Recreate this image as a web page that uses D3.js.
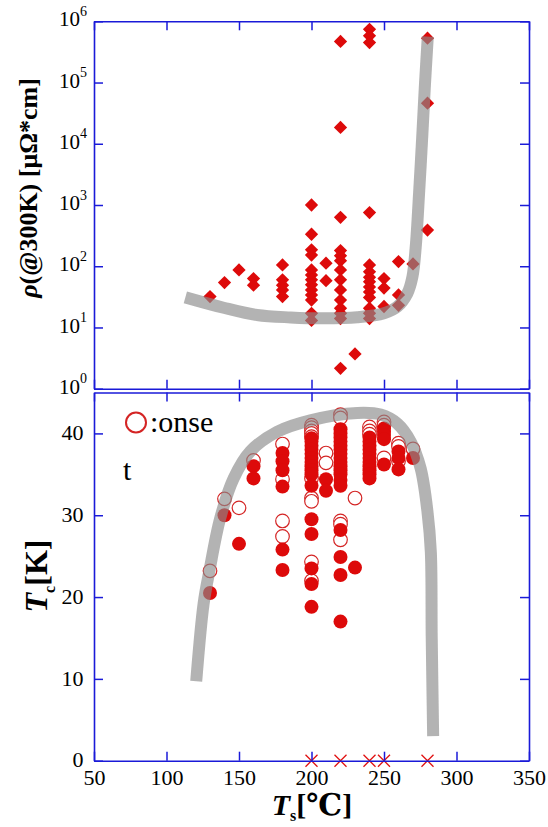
<!DOCTYPE html>
<html><head><meta charset="utf-8">
<script src="https://cdn.jsdelivr.net/npm/d3@7"></script>
<style>body{margin:0;background:#fff}svg{display:block}
svg text{font-family:'Liberation Serif','DejaVu Serif',serif;}</style>
</head><body>
<svg id="c" width="548" height="827"></svg>
<script>
// ---- tick labels ----
const tsTicks = [50,100,150,200,250,300,350];
const rhoTicks = [1,10,100,1000,1e4,1e5,1e6];
const tcTicks = [0,10,20,30,40];

// ---- resistivity (diamonds) ----
const rhoCols = [130,140,150,160,180,200,210,220,230,240,250,260,270,280];
const rhoByCol = [
  [32],
  [54],
  [87],
  [63,49],
  [105,60,49,41,32],
  [1000,333,185,152,87,72,60,50,41,34,28,17,13],
  [112,58],
  [470000,18500,630,180,149,123,87,60,41,28,20.6,17,14,2.15],
  [3.7],
  [740000,580000,450000,751,105,81,66,56,46,38,31,20.6,17,14],
  [63,44,22],
  [119,34,23],
  [109],
  [530000,46000,390]
];

// ---- Tc onset (open circles) ----
const onsetCols = [130,140,150,160,180,200,210,220,230,240,250,260,270];
const onsetByCol = [
  [23.2],
  [32.0],
  [30.9],
  [36.7],
  [38.7,34.4,29.3,27.4],
  [41.0,40.7,40.3,40.0,39.6,34.5,32.1,31.7,24.3,22.0],
  [37.6,36.4],
  [42.3,41.9,29.3,28.9,27.0],
  [32.1],
  [40.8,40.3,39.9],
  [41.4,41.0,37.0],
  [38.8,38.4,36.6],
  [38.1]
];

// ---- Tc zero (filled circles) ----
const zeroCols = [130,140,150,160,180,200,210,220,230,240,250,260,270];
const zeroByCol = [
  [20.5],
  [30.0],
  [26.5],
  [36.0,34.5],
  [37.6,36.6,35.5,33.5,25.8,23.3],
  [39.4,39.0,38.5,38.0,37.5,37.0,36.5,36.0,35.5,35.0,33.6,29.5,27.7,23.5,21.6,18.8],
  [34.4,33.0],
  [40.5,40.0,39.5,39.0,38.5,38.0,37.5,37.0,36.5,36.0,35.5,35.0,34.3,33.6,28.2,24.9,22.7,17.0],
  [23.6],
  [39.5,39.0,38.5,38.0,37.5,37.0,36.5,36.0,35.5,35.0,34.5],
  [40.6,40.2,39.8,39.3,36.2],
  [37.8,37.0,35.6],
  [37.0]
];

// ---- non-superconducting samples (crosses at 0 K) ----
const crossTs = [200,220,240,250,280];

// ---- guide curves ----
const rhoCurveTs  = [113,139.4,162.4,185.5,208.5,231.6,250,259.2,266.1,269.6,271.9,274.2,276.5,278.3,280.2];
const rhoCurveVal = [31,21,16,14.6,14.1,14.7,17.1,21.9,36,67,209,1560,14900,97700,560000];
const tcCurveTs  = [120.5,125.6,129.7,137,146.3,157.8,176.3,199.3,231.6,247.7,259.2,268.4,275.3,280,282.3,282.9,283.9];
const tcCurveVal = [9.7,19.2,23.3,29.6,34.5,37.8,40.2,41.6,42.5,42.3,41.2,39.0,35.7,30.4,25.5,15.2,3.0];

const flat = (cols, by) => cols.flatMap((c,i)=>by[i].map(v=>({t:c,v})));

const svg = d3.select('#c');
const BLUE = '#1a1ad8', RED = '#dd0a0a', OPEN = '#d42424';
const SERIF = "'Liberation Serif','DejaVu Serif',serif";

const x = d3.scaleLinear().domain([50,350]).range([94,529]);
const yR = d3.scaleLog().domain([1,1e6]).range([388.7,21.3]);
const yT = d3.scaleLinear().domain([0,45]).range([760.7,392.5]);

function styleAxis(g){
  g.select('.domain').attr('stroke',BLUE).attr('stroke-width',1.6);
  g.selectAll('.tick line').attr('stroke',BLUE).attr('stroke-width',1.5);
}
function frame(y, yt, top, bottom){
  svg.append('g').attr('transform',`translate(0,${bottom})`)
    .call(d3.axisBottom(x).tickValues(tsTicks).tickSize(-9).tickSizeOuter(0).tickFormat('')).call(styleAxis);
  svg.append('g').attr('transform',`translate(0,${top})`)
    .call(d3.axisTop(x).tickValues(tsTicks).tickSize(-9).tickSizeOuter(0).tickFormat('')).call(styleAxis);
  svg.append('g').attr('transform','translate(94,0)')
    .call(d3.axisLeft(y).tickValues(yt).tickSize(-9).tickSizeOuter(0).tickFormat('')).call(styleAxis);
  svg.append('g').attr('transform','translate(529,0)')
    .call(d3.axisRight(y).tickValues(yt).tickSize(-9).tickSizeOuter(0).tickFormat('')).call(styleAxis);
}
function serif(sel){ sel.style('font-family',SERIF); return sel; }

// ---------- markers: top panel ----------
const dia = d3.symbol(d3.symbolSquare, 88);
svg.append('g').selectAll('path').data(flat(rhoCols,rhoByCol)).join('path')
  .attr('d',dia).attr('fill',RED)
  .attr('transform',d=>`translate(${x(d.t)},${yR(d.v)}) rotate(45)`);

// ---------- markers: bottom panel ----------
svg.append('g').selectAll('circle').data(flat(onsetCols,onsetByCol)).join('circle')
  .attr('cx',d=>x(d.t)).attr('cy',d=>yT(d.v)).attr('r',6.8)
  .attr('fill','#fff').attr('stroke',OPEN).attr('stroke-width',1.2);
svg.append('g').selectAll('circle').data(flat(zeroCols,zeroByCol)).join('circle')
  .attr('cx',d=>x(d.t)).attr('cy',d=>yT(d.v)).attr('r',7)
  .attr('fill',RED);

// ---------- guide curves (semi-transparent, drawn on top) ----------
const lineR = d3.line().x((d,i)=>x(rhoCurveTs[i])).y((d,i)=>yR(rhoCurveVal[i])).curve(d3.curveCatmullRom.alpha(0.5));
svg.append('path').attr('d',lineR(rhoCurveTs)).attr('fill','none')
  .attr('stroke','#8a8a8a').attr('stroke-opacity',0.65).attr('stroke-width',12);
const lineT = d3.line().x((d,i)=>x(tcCurveTs[i])).y((d,i)=>yT(tcCurveVal[i])).curve(d3.curveCatmullRom.alpha(0.5));
svg.append('path').attr('d',lineT(tcCurveTs)).attr('fill','none')
  .attr('stroke','#8a8a8a').attr('stroke-opacity',0.65).attr('stroke-width',12);

// ---------- crosses ----------
svg.append('g').selectAll('path').data(crossTs).join('path')
  .attr('d',d=>{const cx=x(d),cy=yT(0),s=6;return `M${cx-s},${cy-s}L${cx+s},${cy+s}M${cx-s},${cy+s}L${cx+s},${cy-s}`;})
  .attr('stroke','#e01010').attr('stroke-width',1.3).attr('fill','none');

// ---------- frames ----------
frame(yR, rhoTicks, 21.3, 388.7);
frame(yT, tcTicks, 392.5, 760.7);

// ---------- tick labels ----------
const gRL = svg.append('g').attr('transform','translate(94,0)')
  .call(d3.axisLeft(yR).tickValues(rhoTicks).tickSize(0).tickPadding(7).tickFormat(()=>'10'));
gRL.attr('font-family',null).select('.domain').remove();
serif(gRL.selectAll('text')).attr('font-size',21).attr('fill','#000').attr('dy','0.22em')
  .append('tspan').attr('font-size',14).attr('dy','-0.75em').text(d=>Math.round(Math.log10(d)));

const gTL = svg.append('g').attr('transform','translate(94,0)')
  .call(d3.axisLeft(yT).tickValues(tcTicks).tickSize(0).tickPadding(10.5));
gTL.attr('font-family',null).select('.domain').remove();
serif(gTL.selectAll('text')).attr('font-size',22).attr('fill','#000').attr('dy','0.28em');

const gXL = svg.append('g').attr('transform','translate(0,760.7)')
  .call(d3.axisBottom(x).tickValues(tsTicks).tickSize(0).tickPadding(8.5));
gXL.attr('font-family',null).select('.domain').remove();
serif(gXL.selectAll('text')).attr('font-size',22).attr('fill','#000');

// ---------- axis titles ----------
const tx = serif(svg.append('text')).attr('font-weight','bold').attr('font-size',30)
  .attr('x',312).attr('y',815).attr('text-anchor','middle');
tx.append('tspan').attr('font-style','italic').text('T');
tx.append('tspan').attr('font-size',16).attr('dy',6).text('s');
tx.append('tspan').attr('dy',-6).text('[℃]');

const ty1 = serif(svg.append('text')).attr('font-weight','bold').attr('font-size',26)
  .attr('text-anchor','middle').attr('transform','translate(37,188) rotate(-90)');
ty1.append('tspan').attr('font-style','italic').text('ρ');
ty1.append('tspan').text('(@300K) [μΩ*cm]');

const ty2 = serif(svg.append('text')).attr('font-weight','bold').attr('font-size',32)
  .attr('text-anchor','middle').attr('transform','translate(47,576) rotate(-90)');
ty2.append('tspan').attr('font-style','italic').text('T');
ty2.append('tspan').attr('font-size',16).attr('dy',8).text('c');
ty2.append('tspan').attr('dy',-8).text('[K]');

// ---------- legend ----------
svg.append('circle').attr('cx',136).attr('cy',422.5).attr('r',10)
  .attr('fill','none').attr('stroke',OPEN).attr('stroke-width',2);
serif(svg.append('text')).attr('x',150).attr('y',432).attr('font-size',30).attr('fill','#000').text(':onse');
serif(svg.append('text')).attr('x',123).attr('y',480).attr('font-size',30).attr('fill','#000').text('t');
</script>
</body></html>
